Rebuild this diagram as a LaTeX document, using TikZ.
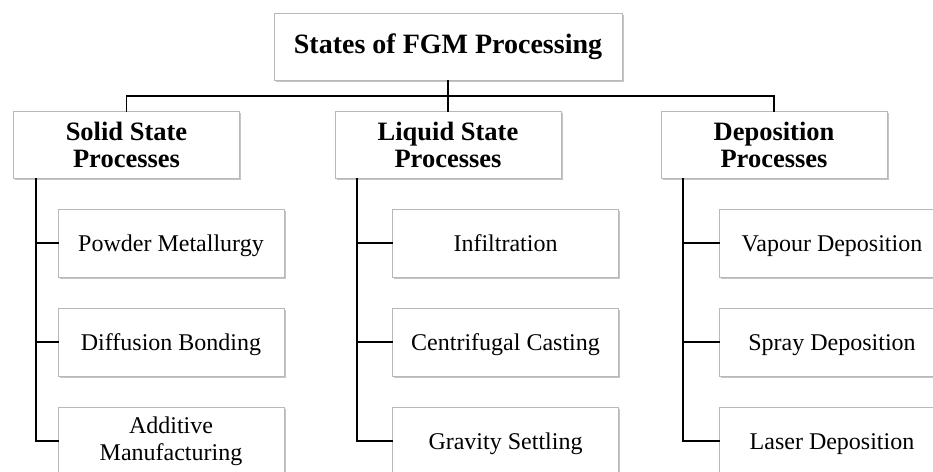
\documentclass[tikz,border=0pt]{standalone}
\usepackage{fontspec}
\setmainfont{Liberation Serif}
\usetikzlibrary{shadows}
\tikzset{
    box/.style={draw=black!28, line width=0.8pt, fill=white, inner sep=0pt, align=center,
        drop shadow={shadow xshift=1.5pt, shadow yshift=-1.8pt, fill=black!45, opacity=0.5}},
    rootbox/.style={box, minimum width=348pt, minimum height=67pt, font=\fontsize{28}{30}\selectfont\bfseries},
    groupbox/.style={box, minimum width=226pt, minimum height=67pt, font=\fontsize{26.5}{27}\selectfont\bfseries},
    leafbox/.style={box, minimum width=226pt, minimum height=68pt, text height=18pt, text depth=2pt,
        font=\fontsize{24}{27}\selectfont},
    conn/.style={line width=1.8pt, line cap=rect}
}
\begin{document}
\begin{tikzpicture}[x=1pt, y=-1pt]
    \useasboundingbox (0,0) rectangle (933,471);
    \clip (0,0) rectangle (933,471);
    \fill [white] (0,0) rectangle (933,471);
    \node [rootbox] (root) at (448,46.5) {States of FGM Processing};
    \node [groupbox] (solid) at (126.5,144.5) {Solid State\\Processes};
    \node [groupbox] (liquid) at (448,144.5) {Liquid State\\Processes};
    \node [groupbox] (depos) at (774,144.5) {Deposition\\Processes};
    \node [leafbox] (powder) at (171,243) {Powder Metallurgy};
    \node [leafbox] (diffusion) at (171,342) {Diffusion Bonding};
    \node [leafbox, text height=, text depth=] (additive) at (171,441) {Additive\\Manufacturing};
    \node [leafbox] (infil) at (505.5,243) {Infiltration};
    \node [leafbox] (centri) at (505.5,342) {Centrifugal Casting};
    \node [leafbox] (gravity) at (505.5,441) {Gravity Settling};
    \node [leafbox] (vapour) at (832,243) {Vapour Deposition};
    \node [leafbox] (spray) at (832,342) {Spray Deposition};
    \node [leafbox] (laser) at (832,441) {Laser Deposition};
    \coordinate (bus) at (448,96);
    \coordinate (strunk) at (36,0);
    \coordinate (ltrunk) at (357,0);
    \coordinate (dtrunk) at (683,0);
    \draw [conn] (solid.north) |- (bus) -| (depos.north);
    \draw [conn] (root.south) -- (liquid.north);
    \draw [conn] (solid.south -| strunk) |- (additive.west);
    \draw [conn] (powder.west) -- (powder.west -| strunk);
    \draw [conn] (diffusion.west) -- (diffusion.west -| strunk);
    \draw [conn] (liquid.south -| ltrunk) |- (gravity.west);
    \draw [conn] (infil.west) -- (infil.west -| ltrunk);
    \draw [conn] (centri.west) -- (centri.west -| ltrunk);
    \draw [conn] (depos.south -| dtrunk) |- (laser.west);
    \draw [conn] (vapour.west) -- (vapour.west -| dtrunk);
    \draw [conn] (spray.west) -- (spray.west -| dtrunk);
\end{tikzpicture}
\end{document}
